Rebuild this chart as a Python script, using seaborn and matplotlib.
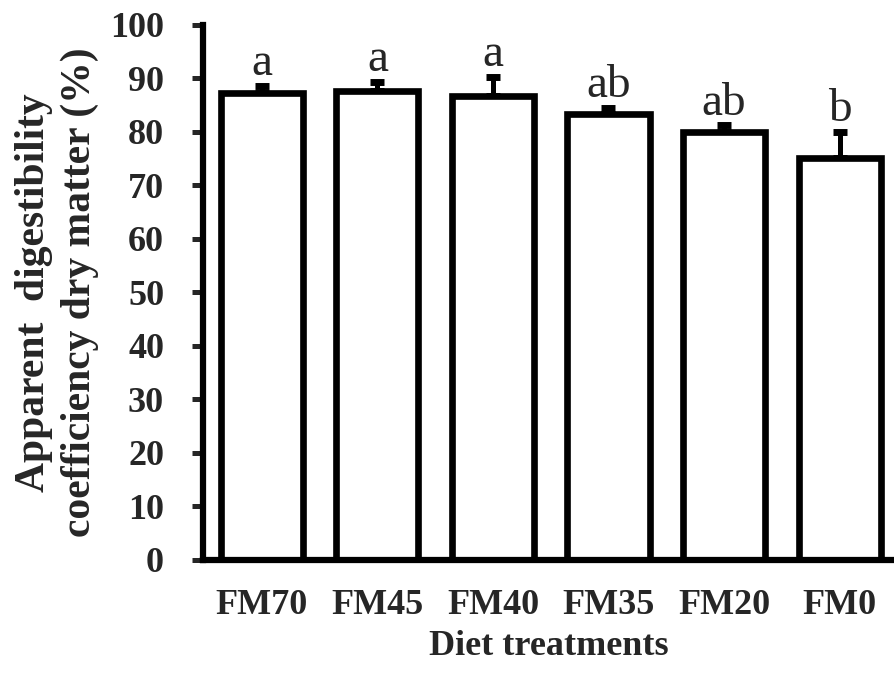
import matplotlib
matplotlib.use("Agg")
import matplotlib.pyplot as plt
import seaborn as sns
import pandas as pd
import numpy as np

categories = ["FM70", "FM45", "FM40", "FM35", "FM20", "FM0"]
values = [87.3, 87.6, 86.7, 83.4, 80.0, 75.1]
errors = [1.3, 1.8, 3.6, 1.1, 1.2, 4.9]
letters = ["a", "a", "a", "ab", "ab", "b"]
yticks = [0, 10, 20, 30, 40, 50, 60, 70, 80, 90, 100]

sns.set_theme(style="white")
plt.rcParams["font.family"] = ["Liberation Serif", "DejaVu Serif"]

df = pd.DataFrame({"Diet": categories, "ADC": values})

fig = plt.figure(figsize=(8.95, 6.73), dpi=100)
ax = fig.add_axes([0.2268, 0.1686, 0.7732, 0.7943])

sns.barplot(data=df, x="Diet", y="ADC", ax=ax, color="white", edgecolor="black",
            linewidth=4.8, width=0.71, errorbar=None, zorder=2)

x = np.arange(len(categories))
ax.errorbar(x, values, yerr=[np.zeros(len(errors)), errors], fmt="none",
            ecolor="black", elinewidth=3.6, capsize=5, capthick=5, zorder=1)

for i, (v, e, l) in enumerate(zip(values, errors, letters)):
    ax.annotate(l, xy=(i, v + e), xytext=(0, 7.5), textcoords="offset points",
                ha="center", va="baseline", fontsize=34, fontweight="normal")

ax.set_xlim(-0.51, 5.48)
ax.set_ylim(0, 100)
ax.set_yticks(yticks)
ax.set_yticklabels([str(t) for t in yticks])

for side in ["top", "right"]:
    ax.spines[side].set_visible(False)
for side in ["left", "bottom"]:
    ax.spines[side].set_linewidth(4.5)
    ax.spines[side].set_color("black")

ax.tick_params(axis="y", direction="out", length=8, width=3.6, pad=20,
               labelsize=26, left=True)
ax.tick_params(axis="x", direction="in", length=6, width=5, pad=21,
               labelsize=26, bottom=True)
for lab in ax.get_xticklabels() + ax.get_yticklabels():
    lab.set_fontweight("bold")

ax.set_xlabel("Diet treatments", fontsize=26, fontweight="bold", labelpad=6)
ax.set_ylabel("Apparent  digestibility\ncoefficiency dry matter (%)", fontsize=30,
              fontweight="bold", linespacing=1.25, labelpad=8)

fig.savefig("out.png", dpi=100)
